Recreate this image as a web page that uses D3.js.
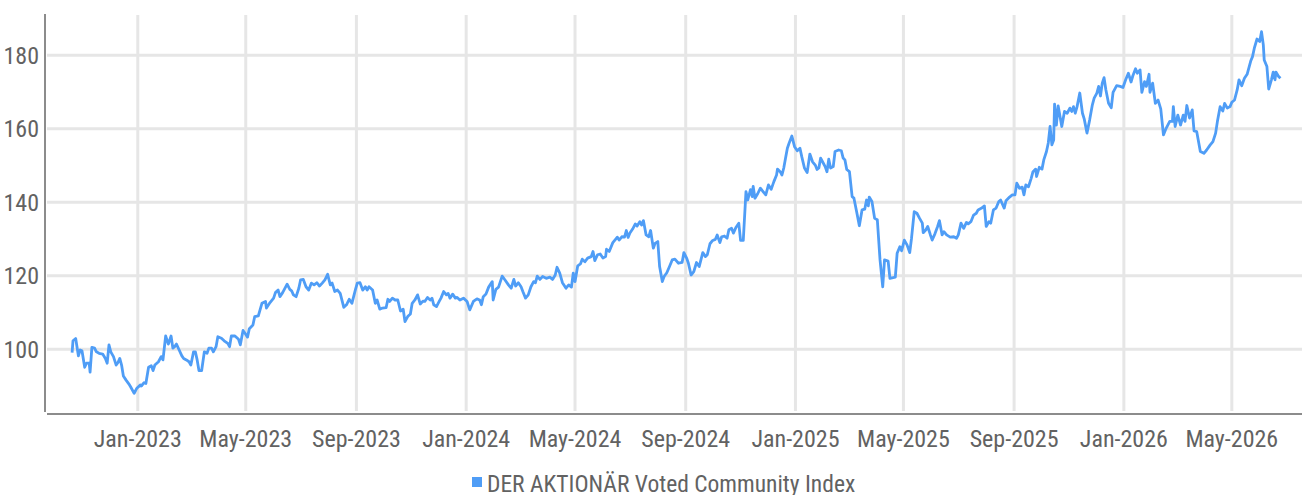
<!DOCTYPE html>
<html>
<head>
<meta charset="utf-8">
<script src="https://cdn.jsdelivr.net/npm/d3@7"></script>
<style>
  body { margin: 0; background: #fff; }
  svg text { font-family: 'Liberation Sans Narrow', 'Roboto Condensed', Roboto, sans-serif; fill: #626262; }
</style>
</head>
<body>
<svg id="chart" width="1302" height="495"></svg>
<script>
// day offsets from 2023-01-01 and index values
var days = [
  -73,-72,-69,-67,-66,-64,-62,-59,-57,-54,
  -53,-51,-48,-46,-43,-39,-36,-34,-32,-30,
  -27,-24,-22,-20,-18,-16,-13,-10,-8,-4,
  -1,3,4,7,9,12,15,17,19,23,
  26,28,31,34,37,39,41,43,46,49,
  51,54,57,59,62,64,66,68,71,74,
  77,79,82,84,87,89,93,96,100,102,
  104,108,112,114,117,119,122,124,128,
  130,134,138,142,143,147,151,153,156,158,
  161,166,169,171,173,176,179,181,184,187,
  190,193,196,199,202,205,208,211,214,216,
  219,222,225,229,232,235,238,242,244,247,
  250,253,255,257,261,264,266,269,272,276,
  278,280,283,286,289,292,295,297,300,303,
  305,308,311,314,317,319,322,325,327,329,
  332,335,337,340,343,345,347,350,353,355,
  358,362,366,369,
  373,377,380,382,384,387,390,394,395,398,
  401,405,408,412,415,418,420,423,426,428,
  431,434,437,440,442,444,447,450,454,458,
  461,464,466,469,472,476,479,482,484,486,
  489,492,494,497,500,504,506,508,511,514,
  517,520,521,524,528,531,533,535,538,541,
  543,545,547,550,553,555,558,560,562,565,
  568,570,573,575,578,580,583,585,588,591,
  594,597,601,
  605,607,610,612,615,618,621,624,628,631,
  633,636,639,642,644,647,649,652,655,657,
  660,662,665,668,670,673,676,678,681,683,
  684,686,689,692,695,698,701,704,707,710,
  711,714,716,718,720,722,724,727,730,733,
  736,738,741,744,747,750,753,755,757,759,
  762,764,766,768,770,773,775,779,782,784,
  786,788,791,794,796,799,802,805,808,810,
  812,813,816,819,822,825,828,830,834,836,
  842,
  844,847,849,852,855,858,860,863,866,869,
  872,873,876,878,881,883,886,889,891,894,
  896,899,903,907,910,912,915,918,921,923,
  926,929,932,934,938,941,943,946,948,951,
  954,957,959,963,965,969,972,975,977,980,
  983,985,987,990,993,995,998,999,1002,1005,
  1007,1010,1012,1014,1016,1018,1019,1021,1023,1027,
  1030,1033,1036,1038,1040,1042,1044,1047,1050,1052,
  1055,1058,1061,1063,1066,1068,1070,1072,1074,1076,
  1079,1082,1084,1088,1092,1095,1098,1101,1104,1106,
  1109,1111,1114,1116,1119,1121,1124,1125,1128,1131,
  1134,1137,1140,1143,1147,1150,1151,1153,1156,1159,
  1162,1164,1166,1169,1172,1174,1177,1181,1185,1188,
  1192,1195,1198,1200,1203,1206,1208,1211,1214,1216,
  1219,1222,1224,1227,1230,1233,1237,1239,1241,1244,
  1247,1249,1251,1252,1255,1257,1260,1262,1264,1265,
  1268,1270
];

var values = [
  99.1,102.3,102.9,99.8,98.2,99.8,99.6,95.1,96.2,96.2,
  93.8,100.5,100.3,99.3,98.9,98.7,97.5,96.2,101.2,99.3,
  98.0,95.7,96.4,97.5,95.7,92.7,91.6,90.6,89.8,88.0,
  89.4,90.3,90.0,90.9,90.7,95.1,95.5,94.2,95.7,96.6,
  98.0,97.1,103.6,101.4,103.6,100.3,100.7,101.4,99.8,98.2,
  97.5,97.1,96.6,95.7,99.3,99.3,97.1,94.2,94.2,99.3,
  98.9,100.3,100.3,99.3,100.7,103.4,103.0,102.3,101.6,100.7,
  103.6,103.6,102.7,101.2,105.1,104.4,103.3,105.6,106.6,
  108.9,109.1,112.5,113.0,111.2,112.7,113.9,115.4,116.1,114.3,
  115.4,117.7,116.3,115.9,114.8,114.3,116.6,118.9,119.0,117.0,
  116.1,118.0,117.5,118.1,117.2,118.0,118.9,120.4,117.5,118.0,
  115.7,116.1,115.2,111.4,112.1,113.6,112.5,116.3,118.0,118.1,
  116.1,117.0,116.1,117.0,116.1,112.5,113.4,110.9,111.2,111.3,
  113.6,113.0,113.9,113.4,113.4,110.4,110.9,107.5,108.9,109.6,
  112.5,113.4,114.8,112.3,113.1,113.0,114.1,113.4,113.9,112.1,
  111.6,113.0,113.9,115.7,114.8,115.2,113.9,115.0,113.9,114.1,
  113.4,113.9,113.0,110.7,
  113.0,113.7,113.4,112.1,114.3,115.0,116.9,118.4,113.4,116.3,
  116.9,119.9,118.9,117.5,116.6,119.0,117.2,118.1,117.0,115.7,
  113.9,114.8,117.0,118.4,118.1,119.9,119.0,119.8,119.3,119.6,
  119.0,120.2,122.3,120.7,118.1,116.6,117.5,116.9,120.7,118.4,
  122.7,123.2,124.5,123.8,124.8,125.2,126.6,124.1,125.7,125.9,
  124.8,125.2,127.2,126.6,129.0,129.9,130.5,129.7,130.6,130.5,
  132.3,130.4,131.6,132.7,134.1,133.5,134.7,133.8,135.0,131.1,
  130.6,132.3,127.5,128.8,129.3,122.5,118.4,119.8,120.8,122.5,
  124.3,124.5,123.4,
  123.6,126.3,124.8,123.4,120.2,121.1,123.6,122.5,126.3,125.2,
  125.7,128.7,129.6,129.9,131.1,129.0,130.6,130.8,130.2,132.5,
  132.9,131.6,133.2,134.3,129.6,129.6,142.9,140.6,143.4,141.5,
  144.3,141.1,142.3,143.8,142.9,142.0,144.7,143.5,145.6,147.4,
  149.0,148.3,147.4,149.3,152.0,154.7,156.1,158.0,155.1,154.0,
  154.7,152.4,149.3,148.1,153.1,151.0,150.1,148.9,149.3,152.0,
  150.6,149.7,148.3,151.7,149.3,149.7,153.8,154.2,154.0,152.0,
  151.5,148.9,148.3,141.5,141.1,137.4,133.6,137.9,138.1,140.6,
  139.0,141.4,140.2,135.6,135.2,124.3,117.0,124.3,124.0,119.3,
  119.6,
  126.1,127.9,126.8,129.7,128.4,126.3,130.2,137.4,137.0,135.6,
  134.3,131.7,132.5,133.4,131.1,129.7,131.4,133.4,135.0,131.1,
  132.0,131.1,130.5,130.6,130.2,131.1,134.3,132.9,134.5,134.1,
  134.7,136.5,137.0,137.9,138.4,139.0,133.4,134.7,134.3,137.9,
  138.4,140.2,140.6,138.4,140.4,141.4,142.0,142.0,145.2,143.8,
  144.1,142.0,144.7,144.2,146.5,148.3,149.0,147.0,149.5,149.0,
  151.5,153.8,156.1,160.6,155.6,156.9,166.7,161.0,166.2,160.6,
  164.7,164.2,165.6,164.7,166.0,164.2,166.0,169.7,164.2,162.6,
  158.8,162.4,166.5,168.3,169.7,171.5,168.9,172.4,173.9,170.6,
  166.9,165.7,169.9,171.7,171.5,171.2,173.3,175.1,172.7,174.4,
  176.3,175.1,176.0,169.9,172.8,171.5,174.8,169.9,172.4,166.9,
  167.8,165.4,158.3,160.1,162.0,162.0,166.0,160.6,163.7,161.0,
  163.7,162.0,166.3,162.9,165.1,159.4,159.2,153.8,153.3,154.2,
  155.6,156.5,158.8,162.0,166.0,164.8,166.9,165.6,166.0,167.2,
  167.8,170.6,173.3,171.7,173.7,174.8,178.4,179.6,181.9,184.4,
  183.7,186.4,182.8,178.7,176.9,170.8,173.3,175.4,173.3,175.4,
  174.2,173.7
];

var yTicks = [100, 120, 140, 160, 180];
var seriesName = "DER AKTIONÄR Voted Community Index";

if (days.length !== values.length) throw new Error("length mismatch " + days.length + " vs " + values.length);

var base = Date.UTC(2023, 0, 1);
var data = days.map(function(d, i) {
  return { date: d3.utcDay.offset(new Date(base), d), value: values[i] };
});

// plot box (window.top is reserved, so use own names)
var plotLeft = 46, plotRight = 1302, plotTop = 14, plotBottom = 411;
var lineColor = "#4f9df6";

var svg = d3.select("#chart");

var x = d3.scaleUtc()
  .domain([new Date(Date.UTC(2022, 8, 21)), new Date(Date.UTC(2026, 6, 18))])
  .range([plotLeft, plotRight]);

var y = d3.scaleLinear()
  .domain([83.2, 191.2])
  .range([plotBottom, plotTop]);

var monthTicks = x.ticks(d3.utcMonth.every(4)).filter(function(t) { return x(t) > plotLeft + 10; });

// grid
svg.append("g").selectAll("line")
  .data(yTicks).enter().append("line")
  .attr("x1", plotLeft + 1).attr("x2", plotRight)
  .attr("y1", function(d) { return y(d); }).attr("y2", function(d) { return y(d); })
  .attr("stroke", "#e6e6e6").attr("stroke-width", 3);

svg.append("g").selectAll("line")
  .data(monthTicks).enter().append("line")
  .attr("x1", function(d) { return x(d); }).attr("x2", function(d) { return x(d); })
  .attr("y1", plotTop + 1).attr("y2", plotBottom)
  .attr("stroke", "#e6e6e6").attr("stroke-width", 3);

// axes lines
svg.append("line")
  .attr("x1", plotLeft - 1).attr("x2", plotLeft - 1)
  .attr("y1", plotTop).attr("y2", plotBottom + 1)
  .attr("stroke", "#8c8c8c").attr("stroke-width", 2);
svg.append("line")
  .attr("x1", plotLeft + 1).attr("x2", plotRight)
  .attr("y1", plotBottom + 3).attr("y2", plotBottom + 3)
  .attr("stroke", "#8c8c8c").attr("stroke-width", 2);

// y labels
svg.append("g").selectAll("text")
  .data(yTicks).enter().append("text")
  .attr("x", 39).attr("y", function(d) { return y(d); })
  .attr("dy", "0.36em")
  .attr("text-anchor", "end")
  .attr("font-size", 24)
  .text(function(d) { return d; });

// x labels
var fmt = d3.utcFormat("%b-%Y");
svg.append("g").selectAll("text")
  .data(monthTicks).enter().append("text")
  .attr("x", function(d) { return x(d); }).attr("y", 447)
  .attr("text-anchor", "middle")
  .attr("font-size", 24)
  .text(function(d) { return fmt(d); });

// series line
var line = d3.line()
  .x(function(d) { return x(d.date); })
  .y(function(d) { return y(d.value); });

svg.append("path")
  .datum(data)
  .attr("d", line)
  .attr("fill", "none")
  .attr("stroke", lineColor)
  .attr("stroke-width", 2.8)
  .attr("stroke-linejoin", "round");

// legend
var legend = svg.append("g");
legend.append("rect")
  .attr("x", 472).attr("y", 477).attr("width", 10).attr("height", 10)
  .attr("fill", lineColor);
legend.append("text")
  .attr("x", 487).attr("y", 491.5)
  .attr("font-size", 23.5)
  .text(seriesName);
</script>
</body>
</html>
